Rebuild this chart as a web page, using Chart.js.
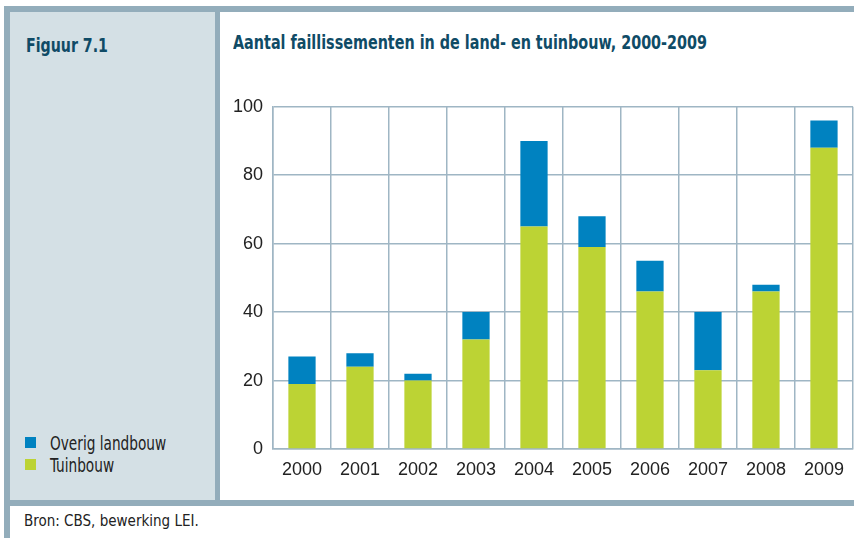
<!DOCTYPE html>
<html>
<head>
<meta charset="utf-8">
<script src="https://cdn.jsdelivr.net/npm/chart.js@4/dist/chart.umd.min.js"></script>
<style>
  body { margin: 0; width: 854px; height: 538px; background: #fff; position: relative; overflow: hidden; font-family: "Liberation Sans", Arial, sans-serif; }
  .frame { position: absolute; background: #93adbb; }
  #side { position: absolute; left: 10px; top: 12px; width: 205px; height: 488px; background: #d4e0e5; }
  #main { position: absolute; left: 220px; top: 12px; width: 634px; height: 488px; background: #fff; }
  .cond { transform-origin: 0 0; white-space: nowrap; font-family: "DejaVu Sans Condensed", "Liberation Sans", sans-serif; }
  #fig { position: absolute; left: 26px; top: 34px; font-weight: bold; font-size: 19px; color: #0f4b66; transform: scaleX(0.83); }
  #title { position: absolute; left: 233px; top: 31px; font-weight: bold; font-size: 19px; color: #0f4b66; transform: scaleX(0.84); }
  .leg { position: absolute; left: 25px; font-size: 19px; color: #222; }
  .leg span { position: absolute; left: 0; top: 5px; width: 11px; height: 11px; }
  .leg b { position: absolute; left: 25px; top: 0; font-weight: normal; transform: scaleX(0.8); }
  #src { position: absolute; left: 24px; top: 512px; font-size: 15px; color: #222; }
  #wrap { position: absolute; left: 220px; top: 86px; width: 634px; height: 414px; }
</style>
</head>
<body>
<div class="frame" style="left:4px;top:6px;width:850px;height:500px;"></div>
<div id="side"></div>
<div id="main"></div>
<div class="frame" style="left:4px;top:506px;width:6px;height:32px;"></div>
<div id="fig" class="cond">Figuur 7.1</div>
<div id="title" class="cond">Aantal faillissementen in de land- en tuinbouw, 2000-2009</div>
<div class="leg cond" style="top:432px;"><span style="background:#0082c0"></span><b class="cond">Overig landbouw</b></div>
<div class="leg cond" style="top:454px;"><span style="background:#bcd334"></span><b class="cond">Tuinbouw</b></div>
<div id="src" class="cond">Bron: CBS, bewerking LEI.</div>
<div id="wrap"><canvas id="chart"></canvas></div>
<script>
// Data
const years = ['2000', '2001', '2002', '2003', '2004', '2005', '2006', '2007', '2008', '2009'];
const tuinbouw = [19, 24, 20, 32, 65, 59, 46, 23, 46, 88];
const overigLandbouw = [8, 4, 2, 8, 25, 9, 9, 17, 2, 8];
const yTicks = [0, 20, 40, 60, 80, 100];

const gridColor = '#9fb6c4';

new Chart(document.getElementById('chart'), {
  type: 'bar',
  data: {
    labels: years,
    datasets: [
      { label: 'Tuinbouw', data: tuinbouw, backgroundColor: '#bcd334' },
      { label: 'Overig landbouw', data: overigLandbouw, backgroundColor: '#0082c0' }
    ]
  },
  options: {
    responsive: true,
    maintainAspectRatio: false,
    animation: false,
    layout: { padding: { top: 13, right: 0, left: 0, bottom: 0 } },
    datasets: { bar: { categoryPercentage: 1, barPercentage: 0.47 } },
    plugins: { legend: { display: false }, tooltip: { enabled: false } },
    scales: {
      x: {
        stacked: true,
        grid: { color: gridColor, lineWidth: 1.5, drawTicks: false, offset: true },
        border: { color: gridColor, width: 1.5 },
        ticks: { color: '#222', padding: 10, maxRotation: 0, font: { family: 'Liberation Sans', size: 18 } },
        afterFit: (scale) => { scale.height = 51; }
      },
      y: {
        stacked: true,
        min: 0,
        max: 100,
        afterBuildTicks: (scale) => { scale.ticks = yTicks.map(v => ({ value: v })); },
        grid: { color: gridColor, lineWidth: 1.5, drawTicks: false },
        border: { color: gridColor, width: 1.5 },
        ticks: { color: '#222', padding: 10, font: { family: 'Liberation Sans', size: 18 } },
        afterFit: (scale) => { scale.width = 53; }
      }
    }
  }
});
</script>
</body>
</html>
